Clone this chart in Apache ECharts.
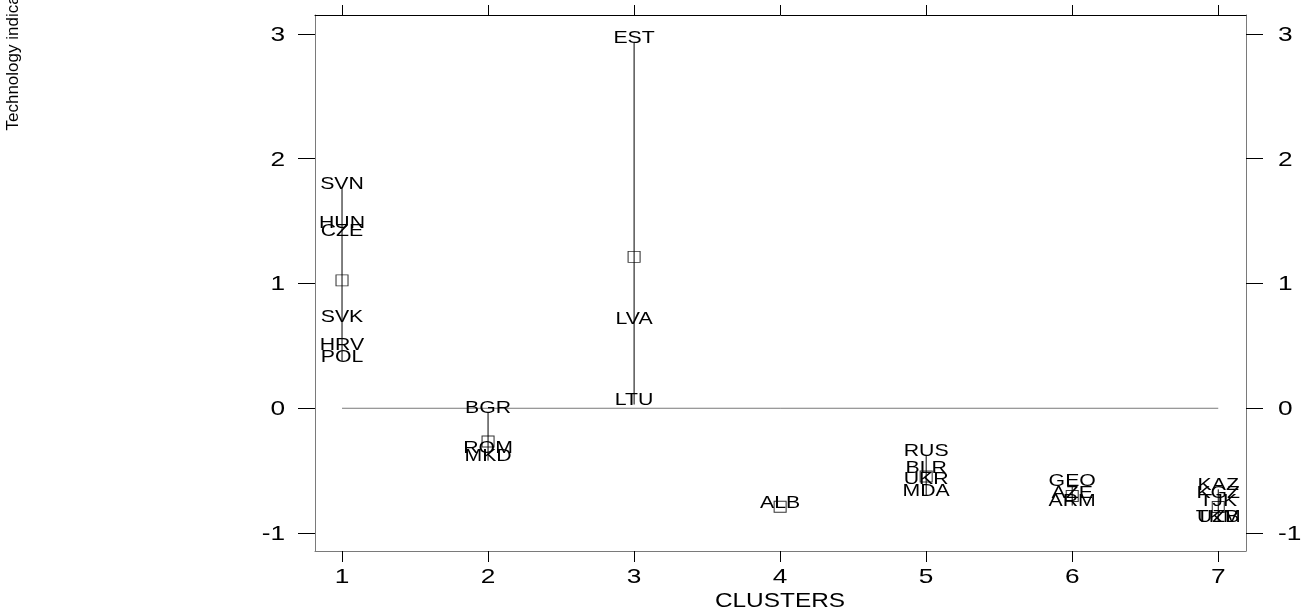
<!DOCTYPE html>
<html>
<head>
<meta charset="utf-8">
<script src="https://cdn.jsdelivr.net/npm/echarts@6/dist/echarts.min.js"></script>
<style>
  html, body { margin: 0; padding: 0; background: #ffffff; }
  #chart { width: 1303px; height: 613px; }
</style>
</head>
<body>
<div id="chart"></div>
<script>
// Countries, their cluster and technology indicator score
const countries = ['SVN', 'HUN', 'CZE', 'SVK', 'HRV', 'POL',
                   'BGR', 'ROM', 'MKD',
                   'EST', 'LVA', 'LTU',
                   'ALB',
                   'RUS', 'BLR', 'UKR', 'MDA',
                   'GEO', 'AZE', 'ARM',
                   'KAZ', 'KGZ', 'TJK', 'TKM', 'UZB'];
const clusters = [1, 1, 1, 1, 1, 1,
                  2, 2, 2,
                  3, 3, 3,
                  4,
                  5, 5, 5, 5,
                  6, 6, 6,
                  7, 7, 7, 7, 7];
const scores = [1.76, 1.45, 1.39, 0.70, 0.47, 0.38,
                -0.03, -0.35, -0.42,
                2.93, 0.68, 0.03,
                -0.79,
                -0.38, -0.51, -0.60, -0.70,
                -0.62, -0.71, -0.78,
                -0.65, -0.71, -0.78, -0.91, -0.91];
const xTicks = [1, 2, 3, 4, 5, 6, 7];
const yTicks = [-1, 0, 1, 2, 3];

const X_MIN = 0.815, X_MAX = 7.19;
const Y_MIN = -1.144, Y_MAX = 3.152;

const FONT = '"Liberation Sans", Arial, sans-serif';
const AXIS_GRAY = '#7a7a7a';
const TEXT_STRETCH = 1.25;   // wide lettering used for all chart text

// Per-cluster min, max and mean
const clusterIds = [...new Set(clusters)];
const stats = clusterIds.map(c => {
  const v = scores.filter((s, i) => clusters[i] === c);
  const mean = v.reduce((a, b) => a + b, 0) / v.length;
  return { c, min: Math.min(...v), max: Math.max(...v), mean };
});

const pointData = countries.map((name, i) => [clusters[i], scores[i], name]);

// Stretched text element helper for custom series
function wideText(x, y, text, size, align) {
  return {
    type: 'text',
    x: x,
    y: y,
    scaleX: TEXT_STRETCH,
    style: {
      text: text,
      fill: '#000',
      font: size + 'px ' + FONT,
      align: align || 'center',
      verticalAlign: 'middle'
    }
  };
}

const chart = echarts.init(document.getElementById('chart'), null, { renderer: 'canvas' });

const yAxisBase = {
  type: 'value',
  min: Y_MIN,
  max: Y_MAX,
  splitLine: { show: false },
  axisLine: { show: true, lineStyle: { color: AXIS_GRAY, width: 1 } },
  axisTick: { show: true, length: 17, customValues: yTicks, lineStyle: { color: '#000', width: 1 } },
  axisLabel: { show: false }
};

chart.setOption({
  animation: false,
  backgroundColor: '#ffffff',
  grid: { left: 315, right: 57, top: 15, bottom: 62, containLabel: false, outerBoundsMode: 'none' },
  xAxis: [
    {
      type: 'value',
      position: 'bottom',
      min: X_MIN,
      max: X_MAX,
      splitLine: { show: false },
      axisLine: { show: true, onZero: false, lineStyle: { color: AXIS_GRAY, width: 1 } },
      axisTick: { show: true, length: 11, customValues: xTicks, lineStyle: { color: '#000', width: 1 } },
      axisLabel: { show: false }
    },
    {
      type: 'value',
      position: 'top',
      min: X_MIN,
      max: X_MAX,
      splitLine: { show: false },
      axisLine: { show: true, onZero: false, lineStyle: { color: '#000', width: 1 } },
      axisTick: { show: true, length: 10, customValues: xTicks, lineStyle: { color: '#000', width: 1 } },
      axisLabel: { show: false }
    }
  ],
  yAxis: [
    Object.assign({}, yAxisBase, { position: 'left' }),
    Object.assign({}, yAxisBase, { position: 'right' })
  ],
  graphic: [
    {
      // x-axis title
      type: 'text',
      x: 780,
      y: 601,
      scaleX: 1.22,
      style: {
        text: 'CLUSTERS',
        fill: '#000',
        font: '20px ' + FONT,
        align: 'center',
        verticalAlign: 'middle'
      }
    },
    {
      // y-axis title
      type: 'text',
      x: 13,
      y: 53,
      rotation: Math.PI / 2,
      style: {
        text: 'Technology indicator',
        fill: '#000',
        font: '17px ' + FONT,
        align: 'center',
        verticalAlign: 'middle'
      }
    }
  ],
  series: [
    {
      // horizontal reference line at zero
      type: 'line',
      data: [[1, 0], [7, 0]],
      symbol: 'none',
      lineStyle: { color: AXIS_GRAY, width: 1 },
      silent: true,
      z: 1
    },
    {
      // min-max span of each cluster
      type: 'custom',
      data: stats.map(s => [s.c, s.min, s.max]),
      renderItem: (params, api) => {
        const p1 = api.coord([api.value(0), api.value(1)]);
        const p2 = api.coord([api.value(0), api.value(2)]);
        return {
          type: 'line',
          shape: { x1: p1[0], y1: p1[1], x2: p2[0], y2: p2[1] },
          style: { stroke: '#000', lineWidth: 1 }
        };
      },
      silent: true,
      z: 2
    },
    {
      // cluster means
      type: 'scatter',
      data: stats.map(s => [s.c, s.mean]),
      symbol: 'rect',
      symbolSize: [12, 11],
      itemStyle: { color: 'rgba(0,0,0,0)', borderColor: '#000', borderWidth: 1 },
      silent: true,
      z: 3
    },
    {
      // country labels placed at each country's score
      type: 'custom',
      data: pointData,
      encode: { x: 0, y: 1 },
      clip: false,
      renderItem: (params, api) => {
        const p = api.coord([api.value(0), api.value(1)]);
        return wideText(p[0], p[1] - 4, pointData[params.dataIndex][2], 17);
      },
      silent: true,
      z: 4
    },
    {
      // y tick labels, both sides
      type: 'custom',
      data: yTicks.flatMap(v => [[X_MIN, v, 'L'], [X_MAX, v, 'R']]),
      encode: { x: 0, y: 1 },
      clip: false,
      renderItem: (params, api) => {
        const p = api.coord([api.value(0), api.value(1)]);
        const v = api.value(1);
        const left = params.dataIndex % 2 === 0;
        return left
          ? wideText(p[0] - 30, p[1] + 1, String(v), 21, 'right')
          : wideText(p[0] + 32, p[1] + 1, String(v), 21, 'left');
      },
      silent: true,
      z: 4
    },
    {
      // x tick labels
      type: 'custom',
      data: xTicks.map(v => [v, Y_MIN]),
      encode: { x: 0, y: 1 },
      clip: false,
      renderItem: (params, api) => {
        const p = api.coord([api.value(0), api.value(1)]);
        return wideText(p[0], p[1] + 26, String(api.value(0)), 21);
      },
      silent: true,
      z: 4
    }
  ]
});
</script>
</body>
</html>
